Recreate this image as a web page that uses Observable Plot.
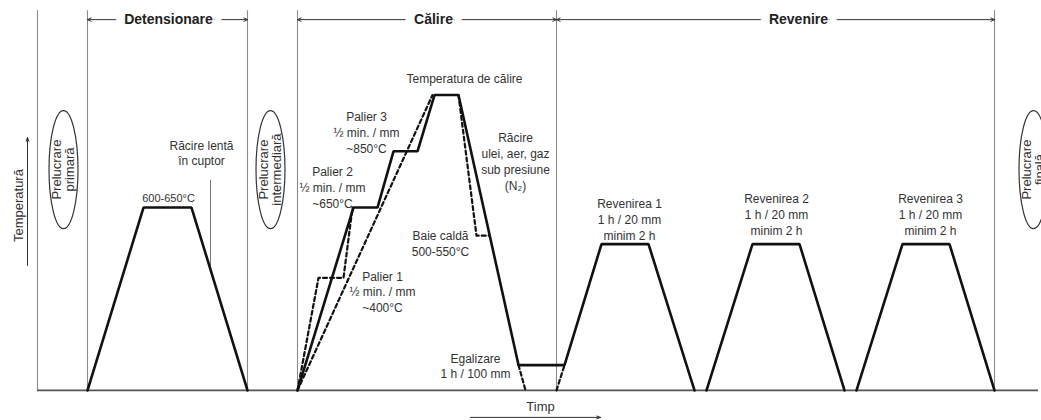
<!DOCTYPE html>
<html><head><meta charset="utf-8">
<script src="https://cdn.jsdelivr.net/npm/d3@7"></script>
<script src="https://cdn.jsdelivr.net/npm/@observablehq/plot@0.6"></script>
<style>body{margin:0;background:#fff}</style>
</head><body><div id="chart"></div>
<script>
// ---------- data (time in arbitrary units, temperature in °C) ----------
// solid heat-treatment profile, one segment per z
const solidTime = [50,106,154,210, 260,316,340,356,380,397,421,481,527,564,611,657, 669,715,762,807, 819,865,912,957];
const solidTemp = [0,650,650,0, 0,650,650,850,850,1050,1050,90,90,520,520,0, 0,520,520,0, 0,520,520,0];
const solidSeg  = [1,1,1,1, 2,2,2,2,2,2,2,2,2,2,2,2, 3,3,3,3, 4,4,4,4];
// dashed alternative paths
const dashTime = [260,281,306,315, 260,395, 421,439,452, 481,488, 519,527];
const dashTemp = [0,400,400,650, 0,1050, 1050,550,550, 90,0, 0,90];
const dashSeg  = ["a","a","a","a","b","b","c","c","c","d","d","e","e"];
// phase boundaries (vertical separators)
const boundaries = [0,50,210,260,519,957];
const topTemp = 1350;
// phase headers
const phaseNames  = ["Detensionare","Călire","Revenire"];
const phaseStart  = [50,260,519];
const phaseEnd    = [210,519,957];
const phaseLabelT = [131,396,761];
const headerTemp = 1318;
// "Prelucrare" ellipses
const procLabels = ["Prelucrare\nprimară","Prelucrare\nintermediară","Prelucrare\nfinală"];
const procTime = [26,233,996];
const procTemp = [785,785,785];
// annotations
const notes = [
  {t:131, c:686, text:"600-650°C", size:11},
  {t:164, c:846, text:"Răcire lentă\nîn cuptor", size:12},
  {t:427, c:1112, text:"Temperatura de călire", size:12},
  {t:329, c:920, text:"Palier 3\n½ min. / mm\n~850°C", size:12},
  {t:295, c:725, text:"Palier 2\n½ min. / mm\n~650°C", size:12},
  {t:345, c:352, text:"Palier 1\n½ min. / mm\n~400°C", size:12},
  {t:478, c:816, text:"Răcire\nulei, aer, gaz\nsub presiune\n(N₂)", size:12},
  {t:403, c:526, text:"Baie caldă\n500-550°C", size:12},
  {t:438, c:89, text:"Egalizare\n1 h / 100 mm", size:12},
  {t:592, c:611, text:"Revenirea 1\n1 h / 20 mm\nminim 2 h", size:12},
  {t:739, c:629, text:"Revenirea 2\n1 h / 20 mm\nminim 2 h", size:12},
  {t:893, c:629, text:"Revenirea 3\n1 h / 20 mm\nminim 2 h", size:12}
];
// leader line for "Răcire lentă în cuptor"
const leaderTime = 173, leaderFrom = 746, leaderTo = 441;

// ---------- build ----------
const FONT = "'Liberation Sans Narrow','Arial Narrow','Liberation Sans',Arial,sans-serif";
const solid = solidTime.map((t,i)=>({t, c:solidTemp[i], z:solidSeg[i]}));
const dashed = dashTime.map((t,i)=>({t, c:dashTemp[i], z:dashSeg[i]}));
const phases = phaseNames.map((n,i)=>({n, s:phaseStart[i], e:phaseEnd[i], m:phaseLabelT[i]}));
const procs = procLabels.map((l,i)=>({l, t:procTime[i], c:procTemp[i]}));

const k = 0.5523;
const ellipse = {draw(ctx){ const rx=14.5, ry=59;
  ctx.moveTo(rx,0);
  ctx.bezierCurveTo(rx, ry*k, rx*k, ry, 0, ry);
  ctx.bezierCurveTo(-rx*k, ry, -rx, ry*k, -rx, 0);
  ctx.bezierCurveTo(-rx, -ry*k, -rx*k, -ry, 0, -ry);
  ctx.bezierCurveTo(rx*k, -ry, rx, -ry*k, rx, 0);
  ctx.closePath(); }};

const chart = Plot.plot({
  width: 1041, height: 420,
  marginTop: 0, marginRight: 0, marginBottom: 0, marginLeft: 0,
  x: {domain: [-37, 1004], range: [0, 1041], axis: null},
  y: {domain: [-107, 1386], range: [420, 0], axis: null},
  style: {fontFamily: FONT, background: "#fff"},
  marks: [
    // separators
    Plot.ruleX(boundaries, {y1: 0, y2: topTemp, stroke: "#8a8a8a", strokeWidth: 1.1}),
    // baseline
    Plot.ruleY([0], {x1: 0, x2: 1001, stroke: "#555", strokeWidth: 1.6}),
    // header arrows
    Plot.arrow(phases, {x1: "m", x2: "s", y1: headerTemp, y2: headerTemp, stroke: "#333", strokeWidth: 1, headLength: 6, headAngle: 50}),
    Plot.arrow(phases, {x1: "m", x2: "e", y1: headerTemp, y2: headerTemp, stroke: "#333", strokeWidth: 1, headLength: 6, headAngle: 50}),
    Plot.text(phases, {x: "m", y: headerTemp, text: "n", fontWeight: "bold", fontSize: 14, fill: "#222", stroke: "white", strokeWidth: 18}),
    // leader
    Plot.ruleX([leaderTime], {y1: leaderFrom, y2: leaderTo, stroke: "#777", strokeWidth: 1}),
    // dashed paths
    Plot.line(dashed, {x: "t", y: "c", z: "z", stroke: "#111", strokeWidth: 2.2, strokeDasharray: "4,3"}),
    // solid profile
    Plot.line(solid, {x: "t", y: "c", z: "z", stroke: "#111", strokeWidth: 2.6, strokeLinejoin: "miter"}),
    // ellipses
    Plot.dot(procs, {x: "t", y: "c", symbol: ellipse, stroke: "#333", strokeWidth: 1.2, fill: "white"}),
    Plot.text(procs, {x: "t", y: "c", text: "l", rotate: -90, fontSize: 13, lineHeight: 1.0, fill: "#333"}),
    // annotations
    Plot.text(notes, {x: "t", y: "c", text: "text", fontSize: "size", lineHeight: 1.33, fill: "#333"}),
    // axis titles
    Plot.text(["Temperatură"], {x: -19, y: 657, text: d => d, rotate: -90, fontSize: 13, fill: "#333"}),
    Plot.arrow([0], {x1: -10, x2: -10, y1: 444, y2: 899, stroke: "#333", strokeWidth: 1, headLength: 6, headAngle: 40}),
    Plot.text(["Timp"], {x: 503, y: -57, text: d => d, fontSize: 13, fill: "#333"}),
    Plot.arrow([0], {x1: 433, x2: 563, y1: -96, y2: -96, stroke: "#333", strokeWidth: 1, headLength: 6, headAngle: 40})
  ]
});
document.getElementById("chart").append(chart);
</script>
</body></html>
